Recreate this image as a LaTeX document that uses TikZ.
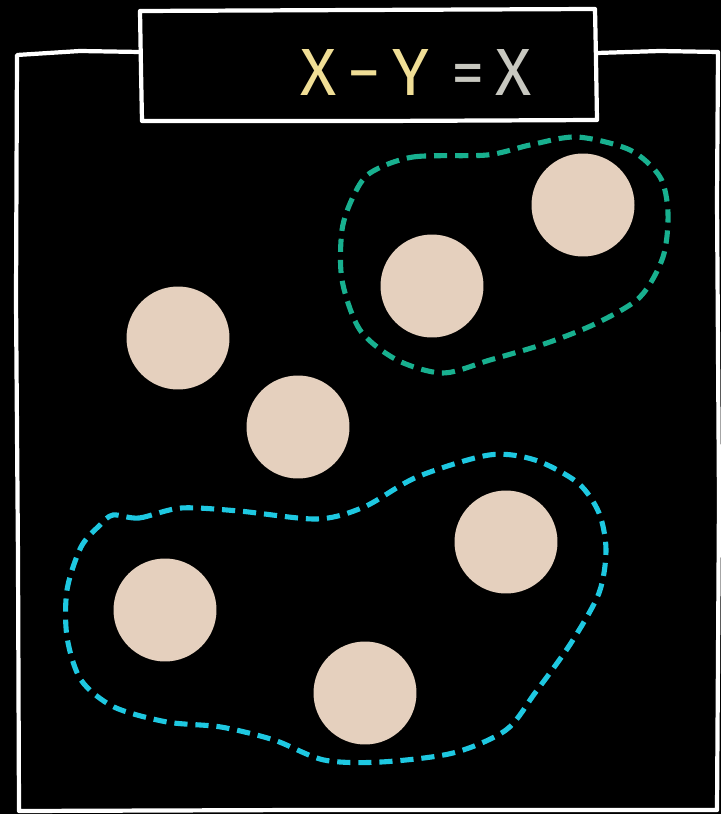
\documentclass[tikz,border=0pt]{standalone}
\usepackage{fontspec}
\setmainfont{Fira Sans}
\definecolor{dotfill}{RGB}{229,208,190}
\definecolor{setgreen}{RGB}{24,176,143}
\definecolor{setcyan}{RGB}{30,200,225}
\definecolor{penyellow}{RGB}{240,222,150}
\definecolor{pengray}{RGB}{200,200,192}
\tikzset{
  chalk/.style={draw=white, line width=2.4pt, line cap=round, line join=round},
  dot/.style={circle, fill=dotfill, minimum size=2.06cm, inner sep=0pt},
  setline/.style={line width=2.9pt, dash pattern=on 7.5pt off 4.5pt}
}
\begin{document}
\begin{tikzpicture}[x=0.02cm, y=-0.02cm]
  \fill[black] (0,0) rectangle (721,814);
  \useasboundingbox (0,0) rectangle (721,814);
  % outer frame
  \draw[chalk] (140,52) -- (80,51) -- (17,55) -- (16,300) -- (18,560) -- (19,811)
    -- (300,810) -- (717,810) -- (719,500) -- (717,200) -- (718,52) -- (660,51) -- (597,53);
  % title box
  \filldraw[chalk, fill=black] (140,11) -- (360,10) -- (595,9) -- (596,60) -- (597,120)
    -- (380,121) -- (142,121) -- (141,70) -- cycle;
  \node[font=\fontsize{38}{42}\selectfont, inner sep=0pt] (eq) at (416,73)
    {\textcolor{penyellow}{X\,−\,Y}\,\,\textcolor{pengray}{=\,X}};
  % the sets
  \draw[setline, setgreen] plot[smooth cycle] coordinates {
    (370,173) (413,157) (487,155) (530,145) (577,137) (630,150) (660,177)
    (668,213) (663,257) (640,297) (597,323) (547,343) (490,360) (443,373)
    (397,360) (360,330) (342,280) (342,230) (353,197)};
  \draw[setline, setcyan] plot[smooth cycle] coordinates {
    (113,515) (139,518) (181,508) (239,511) (317,519) (364,507) (417,477)
    (489,455) (535,460) (578,483) (599,513) (606,550) (599,593) (571,643)
    (535,693) (506,730) (453,753) (381,762) (324,760) (274,740) (221,727)
    (167,722) (114,707) (81,680) (67,637) (67,590) (81,547) (100,525)};
  % the elements
  \node[dot] (d1) at (583,205) {};
  \node[dot] (d2) at (432,286) {};
  \node[dot] (d3) at (178,338) {};
  \node[dot] (d4) at (298,427) {};
  \node[dot] (d5) at (506,542) {};
  \node[dot] (d6) at (165,610) {};
  \node[dot] (d7) at (365,693) {};
\end{tikzpicture}
\end{document}
